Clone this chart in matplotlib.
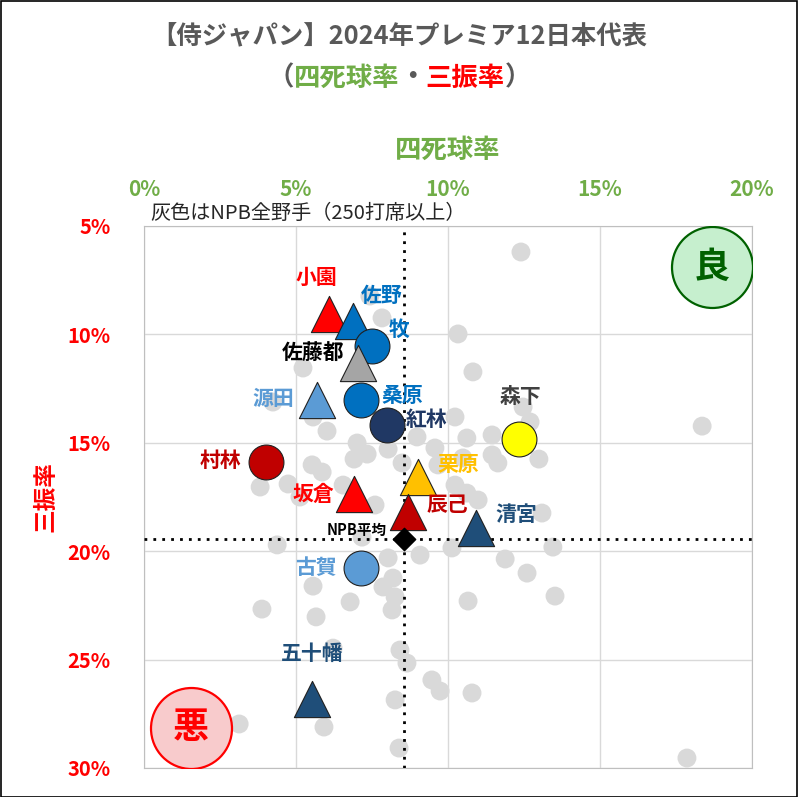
import matplotlib
matplotlib.use('Agg')
import matplotlib.pyplot as plt
from matplotlib.patches import Rectangle
from matplotlib.ticker import FuncFormatter

plt.rcParams['font.family'] = ['Noto Sans CJK JP', 'DejaVu Sans']

# NPB全野手（250打席以上）: 四死球率, 三振率 (%)
npb_bb = [12.40, 7.43, 7.83, 10.33, 5.23, 10.82, 4.24, 5.56, 6.02, 7.01,
          7.34, 6.91, 8.03, 8.98, 9.57, 10.23, 10.62, 11.45, 12.47, 12.70,
          11.45, 11.64, 12.99, 18.36, 8.49, 9.67, 5.53, 5.86, 3.82, 4.74,
          5.13, 6.55, 7.60, 10.23, 10.62, 10.99, 13.09, 10.13, 13.45, 11.88,
          12.60, 4.38, 7.17, 9.08, 8.03, 8.19, 7.86, 8.26, 6.78, 8.16,
          5.56, 3.88, 5.66, 10.66, 13.52, 6.22, 8.42, 8.65, 9.47, 9.74,
          10.79, 8.26, 3.13, 5.92, 8.39, 17.86, 10.49]
npb_k = [6.20, 8.23, 9.24, 9.98, 11.55, 11.73, 13.12, 13.81, 14.46, 15.01,
         15.52, 15.75, 15.29, 14.73, 15.24, 13.81, 14.78, 14.64, 13.35, 14.04,
         15.56, 15.93, 15.75, 14.23, 15.93, 16.02, 16.02, 16.35, 17.04, 16.90,
         17.50, 16.95, 17.87, 16.95, 17.32, 17.64, 18.24, 19.85, 19.81, 20.36,
         21.01, 19.71, 19.35, 20.18, 20.31, 21.24, 21.65, 22.11, 22.34, 22.71,
         21.61, 22.67, 23.03, 22.30, 22.07, 24.47, 24.56, 25.16, 25.94, 26.45,
         26.54, 26.86, 27.97, 28.11, 29.08, 29.54, 15.70]

# 侍ジャパン
players = ['小園', '佐野', '牧', '佐藤都', '源田', '桑原', '紅林', '森下',
           '村林', '坂倉', '栗原', '辰己', '清宮', '古賀', '五十幡']
player_bb = [6.09, 6.88, 7.50, 7.04, 5.69, 7.14, 7.99, 12.34,
             4.01, 6.91, 9.01, 8.68, 10.92, 7.14, 5.53]
player_k = [9.06, 9.40, 10.54, 11.30, 13.03, 13.03, 14.18, 14.82,
            15.89, 17.34, 16.60, 18.17, 18.91, 20.78, 26.84]

npb_avg_bb = 8.55
npb_avg_k = 19.44

# styles
marker = {'小園': '^', '佐野': '^', '牧': 'o', '佐藤都': '^', '源田': '^', '桑原': 'o',
          '紅林': 'o', '森下': 'o', '村林': 'o', '坂倉': '^', '栗原': '^', '辰己': '^',
          '清宮': '^', '古賀': 'o', '五十幡': '^'}
face = {'小園': '#FF0000', '佐野': '#0070C0', '牧': '#0070C0', '佐藤都': '#A5A5A5',
        '源田': '#5B9BD5', '桑原': '#0070C0', '紅林': '#203864', '森下': '#FFFF00',
        '村林': '#C00000', '坂倉': '#FF0000', '栗原': '#FFC000', '辰己': '#C00000',
        '清宮': '#1F4E79', '古賀': '#5B9BD5', '五十幡': '#1F4E79'}
text_col = dict(face)
text_col['佐藤都'] = '#000000'
text_col['森下'] = '#404040'
offs = {'小園': (-13, 37), '佐野': (29, 26), '牧': (27, 17), '佐藤都': (-45, 9),
        '源田': (-44, 2), '桑原': (41, 5), '紅林': (40, 6), '森下': (1, 42),
        '村林': (-45, 2), '坂倉': (-41, -1), '栗原': (40, 13), '辰己': (40, 7),
        '清宮': (40, 13), '古賀': (-45, 1), '五十幡': (0, 46)}

fig = plt.figure(figsize=(7.98, 7.97), dpi=100)
ax = fig.add_axes([144/798, 1 - 768/797, 608/798, 542/797])

ax.scatter(npb_bb, npb_k, s=185, color='#D9D9D9', edgecolors='none', zorder=2)
ax.axvline(npb_avg_bb, color='black', linestyle=(0, (1, 2.2)), linewidth=2, zorder=3)
ax.axhline(npb_avg_k, color='black', linestyle=(0, (1, 2.2)), linewidth=2, zorder=3)

for name, x, y in zip(players, player_bb, player_k):
    s = 630 if marker[name] == 'o' else 680
    ax.scatter(x, y, s=s, marker=marker[name], color=face[name],
               edgecolors='#202020', linewidths=0.8, zorder=4)
    ax.annotate(name, (x, y), xytext=offs[name], textcoords='offset pixels',
                ha='center', va='center', fontsize=15, fontweight='bold',
                color=text_col[name], zorder=6)

ax.scatter(npb_avg_bb, npb_avg_k, s=130, marker='D', color='black', zorder=5)
ax.annotate('NPB平均', (npb_avg_bb, npb_avg_k), xytext=(-47, 9), textcoords='offset pixels',
            ha='center', va='center', fontsize=10.5, fontweight='bold', color='black')

# 良 / 悪
ax.scatter(18.68, 6.89, s=3400, color='#C6EFCE', edgecolors='#006100', linewidths=1.6, zorder=5)
ax.text(18.68, 6.89, '良', ha='center', va='center', fontsize=26, fontweight='bold',
        color='#006100', zorder=6)
ax.scatter(1.55, 28.15, s=3400, color='#F8CBCC', edgecolors='#FF0000', linewidths=1.6, zorder=5)
ax.text(1.55, 28.15, '悪', ha='center', va='center', fontsize=26, fontweight='bold',
        color='#FF0000', zorder=6)

ax.set_xlim(0, 20)
ax.set_ylim(30, 5)
ax.set_xticks([0, 5, 10, 15, 20])
ax.set_yticks([5, 10, 15, 20, 25, 30])
pct = FuncFormatter(lambda v, p: f'{v:.0f}%')
ax.xaxis.set_major_formatter(pct)
ax.yaxis.set_major_formatter(pct)
ax.xaxis.tick_top()
ax.tick_params(axis='x', length=0, pad=19, labelsize=15, labelcolor='#70AD47')
ax.tick_params(axis='y', length=0, pad=24, labelsize=14.5, labelcolor='#FF0000')
for lab in ax.get_xticklabels() + ax.get_yticklabels():
    lab.set_fontweight('bold')
ax.grid(True, color='#D9D9D9', linewidth=1, zorder=0)
ax.set_axisbelow(True)
for sp in ax.spines.values():
    sp.set_color('#BFBFBF')

ax.set_ylabel('三振率', color='#FF0000', fontsize=17, fontweight='bold')
ax.yaxis.set_label_coords((57 - 144) / 608, 0.5)
fig.text(448/798, 1 - 150/797, '四死球率', ha='center', va='center',
         fontsize=19, fontweight='bold', color='#70AD47')
fig.text(150/798, 1 - 213/797, '灰色はNPB全野手（250打席以上）', ha='left', va='center',
         fontsize=14.5, color='#262626')

fig.text(0.5, 1 - 37/797, '【侍ジャパン】2024年プレミア12日本代表', ha='center', va='center',
         fontsize=18.3, fontweight='bold', color='#595959')

# subtitle with colored parts
parts = [('（', '#595959'), ('四死球率', '#70AD47'), ('・', '#595959'),
         ('三振率', '#FF0000'), ('）', '#595959')]
renderer = fig.canvas.get_renderer()
widths = []
objs = []
for txt, col in parts:
    t = fig.text(0, 1 - 78/797, txt, ha='left', va='center', fontsize=19,
                 fontweight='bold', color=col)
    objs.append(t)
    widths.append(t.get_window_extent(renderer).width)
total = sum(widths)
x0 = 399 - total / 2
for t, w in zip(objs, widths):
    t.set_x(x0 / 798)
    x0 += w

fig.patches.append(Rectangle((0.5/798, 0.5/797), 1 - 1.5/798, 1 - 1.5/797, transform=fig.transFigure,
                             fill=False, edgecolor='black', linewidth=1.2))

fig.savefig('out.png', dpi=100)
